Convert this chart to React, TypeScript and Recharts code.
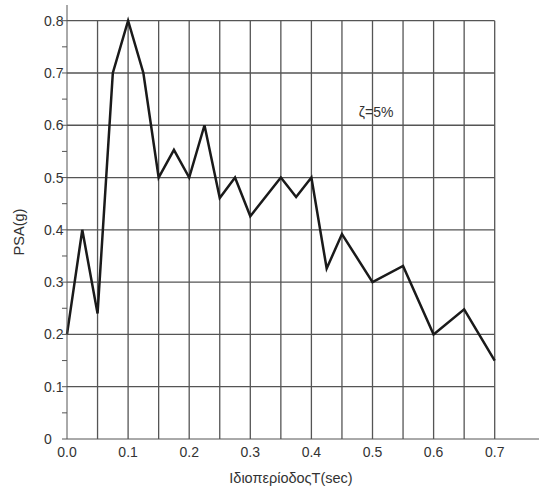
import React from 'react';
import { LineChart, Line, XAxis, YAxis, ReferenceLine, ReferenceArea } from 'recharts';

// Period T (sec) and pseudo-spectral acceleration (g)
const periods = [0, 0.025, 0.05, 0.075, 0.1, 0.125, 0.15, 0.175, 0.2, 0.225, 0.25, 0.275, 0.3, 0.35, 0.375, 0.4, 0.425, 0.45, 0.5, 0.55, 0.6, 0.65, 0.7];
const psa = [0.2, 0.4, 0.24, 0.7, 0.8, 0.7, 0.5, 0.553, 0.5, 0.6, 0.461, 0.5, 0.426, 0.5, 0.463, 0.5, 0.326, 0.392, 0.3, 0.331, 0.2, 0.248, 0.15];

const xTicks = [0, 0.1, 0.2, 0.3, 0.4, 0.5, 0.6, 0.7];
const yTicks = [0, 0.05, 0.1, 0.15, 0.2, 0.25, 0.3, 0.35, 0.4, 0.45, 0.5, 0.55, 0.6, 0.65, 0.7, 0.75, 0.8];
const vGrid = [0.05, 0.1, 0.15, 0.2, 0.25, 0.3, 0.35, 0.4, 0.45, 0.5, 0.55, 0.6, 0.65, 0.7];
const hGrid = [0.1, 0.2, 0.3, 0.4, 0.5, 0.6, 0.7, 0.8];

const data = periods.map((t, i) => ({ t, psa: psa[i] }));

const gridColor = '#555';
const textColor = '#333';
const font = '"Liberation Sans", Arial, sans-serif';

// y labels in the original are left-aligned at a fixed x
const YTick = (props: any) => {
    const { y, payload } = props;
    const v = payload.value as number;
    if (Math.round(v * 100) % 10 !== 0) return null;
    return (
        <text x={44} y={y} dy="0.355em" textAnchor="start" fill={textColor} fontSize={14} fontFamily={font}>
            {v === 0 ? '0' : v.toFixed(1)}
        </text>
    );
};

const YTitle = () => (
    <text x={19} y={232} transform="rotate(-90 19 232)" textAnchor="middle" dominantBaseline="central" fill={textColor} fontSize={14.5} fontFamily={font}>
        PSA(g)
    </text>
);

export default function App() {
    return (
        <div style={{ position: 'absolute', left: 0, top: 0, background: '#fff', fontFamily: font }}>
            <LineChart width={539} height={488} data={data} margin={{ top: 5, right: 0, bottom: 0, left: 0 }}>
                <XAxis
                    dataKey="t"
                    type="number"
                    domain={[0, 0.7725]}
                    ticks={xTicks}
                    tickFormatter={(v: number) => v.toFixed(1)}
                    tickLine={false}
                    tickSize={0}
                    tickMargin={8}
                    height={49}
                    stroke={gridColor}
                    tick={{ fill: textColor, fontSize: 14, fontFamily: font }}
                    label={{ value: 'ΙδιοπερίοδοςT(sec)', position: 'insideBottom', offset: 5, dx: -12, fill: textColor, fontSize: 14.5, fontFamily: font }}
                />
                <YAxis
                    type="number"
                    domain={[0, 0.83]}
                    ticks={yTicks}
                    tick={<YTick />}
                    tickSize={5}
                    width={67}
                    stroke={gridColor}
                    label={{ content: () => <YTitle /> }}
                />
                {vGrid.map(x => (
                    <ReferenceLine key={'v' + x} segment={[{ x, y: 0 }, { x, y: 0.8 }]} stroke={gridColor} strokeWidth={1.3} />
                ))}
                {hGrid.map(y => (
                    <ReferenceLine key={'h' + y} segment={[{ x: 0, y }, { x: 0.7, y }]} stroke={gridColor} strokeWidth={1.3} />
                ))}
                <ReferenceArea
                    x1={0.437}
                    x2={0.575}
                    y1={0.61}
                    y2={0.655}
                    fill="#fff"
                    fillOpacity={1}
                    stroke="none"
                    label={{ value: 'ζ=5%', position: 'center', fill: textColor, fontSize: 14, fontFamily: font, dy: 4 }}
                />
                <Line
                    type="linear"
                    dataKey="psa"
                    stroke="#1a1a1a"
                    strokeWidth={2.5}
                    dot={false}
                    isAnimationActive={false}
                />
            </LineChart>
        </div>
    );
}
